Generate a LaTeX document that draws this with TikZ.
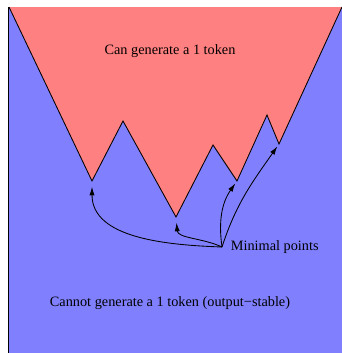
\documentclass[tikz,border=0pt]{standalone}
\usepackage{fontspec}
\setmainfont{Liberation Serif}
\usetikzlibrary{arrows.meta,positioning}
\definecolor{RegionRed} {HTML}{FF8080}
\definecolor{RegionBlue}{HTML}{8080FF}
\tikzset{
  region/.style={draw=black,line width=0.6pt,line join=miter},
  lbl/.style={font=\fontsize{10}{12}\selectfont,inner sep=2pt},
  parr/.style={-{Latex[length=6pt,width=3.6pt]},line width=0.6pt,shorten >=2pt},
}
\begin{document}
\begin{tikzpicture}[x=0.7pt,y=-0.7pt]
  \useasboundingbox (0,0) rectangle (342,353);
  \begin{scope}
    \clip (0,0) rectangle (342,353);
    \filldraw[region,fill=RegionBlue] (8,7) rectangle (346,357);
    \filldraw[region,fill=RegionRed] (9,7) -- (92,181) -- (123,121) -- (176,217)
      -- (213,145) -- (237,181) -- (267,115) -- (279,144) -- (342,7);
  \end{scope}

  \coordinate (v1) at (92,181);
  \coordinate (v2) at (176,217);
  \coordinate (v3) at (237,181);
  \coordinate (v4) at (279,144);

  \node[lbl] (top) at (170,51) {Can generate a 1 token};
  \node[lbl] (bottom) at (170,303) {Cannot generate a 1 token (output\textminus stable)};

  \coordinate (src) at (222,247);
  \node[lbl,right=4pt of src] (mp) {Minimal points};

  \draw[parr,shorten >=4pt] (src) to[out=178,in=-90] (v1);
  \draw[parr,shorten >=4pt] (src) to[out=155,in=-85] (v2);
  \draw[parr] (src) to[out=98,in=-125] (v3);
  \draw[parr] (src) to[out=72,in=-125] (v4);
\end{tikzpicture}
\end{document}
